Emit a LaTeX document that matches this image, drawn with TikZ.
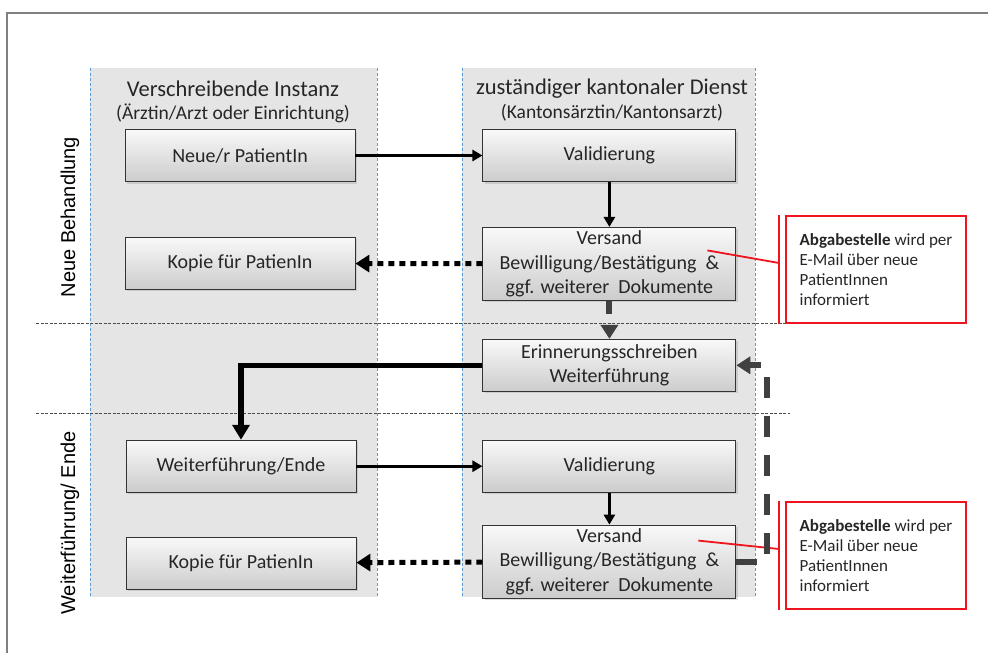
\documentclass[tikz,border=0pt]{standalone}
\usepackage{fontspec}
\setmainfont{Carlito}
\newfontfamily\arialfont{Liberation Sans}
\usetikzlibrary{positioning, arrows.meta, shadows}

\definecolor{laneGray}{RGB}{229,229,229}
\definecolor{laneBlue}{RGB}{91,155,213}
\definecolor{arrowGray}{RGB}{64,64,64}
\definecolor{noteRed}{RGB}{240,20,30}

\begin{document}
\begin{tikzpicture}[x=1pt, y=-1pt, node distance=10pt,
    box/.style={draw=black!80, line width=0.9pt, top color=gray!5, bottom color=gray!40,
        drop shadow={shadow xshift=2pt, shadow yshift=-2pt, opacity=0.25},
        text=black!85, font=\fontsize{20}{24.5}\selectfont, align=center,
        minimum height=52pt, inner xsep=2pt, inner ysep=0pt},
    leftbox/.style={box, minimum width=230pt},
    rightbox/.style={box, minimum width=253pt},
    tallbox/.style={rightbox, minimum height=73pt},
    note/.style={draw=noteRed, line width=1.8pt, minimum width=180pt, minimum height=107pt,
        align=left, font=\fontsize{17}{20}\selectfont, text=black!85},
    flow/.style={-{Triangle[length=10pt,width=11pt]}, line width=2.6pt},
    back/.style={-{Triangle[length=15pt,width=17pt]}, line width=5.5pt},
    copyflow/.style={-{Triangle[length=14pt,width=17pt]}, line width=5pt, dash pattern=on 6pt off 5pt},
    remind/.style={-{Triangle[length=14pt,width=17pt]}, draw=arrowGray, line width=6pt, dash pattern=on 21pt off 18pt},
    lane/.style={laneBlue, line width=0.8pt, dash pattern=on 3pt off 2pt},
    phase/.style={black!70, line width=0.8pt, dash pattern=on 3pt off 1.5pt},
    title/.style={font=\fontsize{22.5}{26}\selectfont, text=black!85},
    subtitle/.style={font=\fontsize{19.5}{23}\selectfont, text=black!85},
    side/.style={font=\arialfont\fontsize{20}{24}\selectfont, rotate=90}
]
\useasboundingbox (0,0) rectangle (988,653);

% frame and swimlanes
\draw[gray, line width=1.5pt] (7,653) -- (7,13) -- (988,13);
\fill[laneGray] (90,68) rectangle (377,597);
\fill[laneGray] (462,68) rectangle (755,597);
\foreach \x in {90, 377, 462, 755}
    \draw[lane] (\x,68) -- (\x,597);
\draw[phase] (36,323) -- (790,323);
\draw[phase] (36,413) -- (790,413);

% headings
\node[title]    (head L) at (233,89)  {Verschreibende Instanz};
\node[subtitle] (sub L)  at (233,113) {(Ärztin/Arzt oder Einrichtung)};
\node[title]    (head R) at (612,89)  {zuständiger kantonaler Dienst};
\node[subtitle] (sub R)  at (612,113) {(Kantonsärztin/Kantonsarzt)};

\node[side] (phase 1) at (70,217) {Neue Behandlung};
\node[side] (phase 2) at (70,523) {Weiterführung/ Ende};

% new treatment
\node[leftbox]                        (neu)      at (240,155.5) {Neue/r PatientIn};
\node[rightbox, right=127pt of neu]   (valid 1)  {Validierung};
\node[tallbox, below=45pt of valid 1] (versand 1) {Versand\\Bewilligung/Bestätigung \ \&\\ggf. weiterer \ Dokumente};
\node[leftbox, below=55pt of neu]     (kopie 1)  {Kopie für PatienIn};

% reminder
\node[rightbox, below=38pt of versand 1] (erinnerung) {Erinnerungsschreiben\\Weiterführung};

% continuation / end
\node[rightbox, below=48pt of erinnerung] (valid 2)   {Validierung};
\node[tallbox, below=32pt of valid 2]     (versand 2) {Versand\\Bewilligung/Bestätigung \ \&\\ggf. weiterer \ Dokumente};
\node[leftbox, left=126pt of valid 2]     (weiter)    {Weiterführung/Ende};
\node[leftbox, below=44pt of weiter]      (kopie 2)   {Kopie für PatienIn};

% notes
\node[note] (note 1) at (876,269.5) {\textbf{Abgabestelle} wird per\\E-Mail über neue\\PatientInnen\\informiert};
\node[note] (note 2) at (876,555.5) {\textbf{Abgabestelle} wird per\\E-Mail über neue\\PatientInnen\\informiert};
\draw[noteRed, line width=1.8pt] ([xshift=-6pt]note 1.north west) -- ([xshift=-6pt]note 1.south west);
\draw[noteRed, line width=1.8pt] ([xshift=-6pt]note 2.north west) -- ([xshift=-6pt]note 2.south west);
\coordinate (mark 1) at ([xshift=-29pt, yshift=13.5pt]versand 1.east);
\coordinate (mark 2) at ([xshift=-38pt, yshift=21pt]versand 2.east);
\draw[noteRed, line width=1.8pt] (mark 1) -- ([xshift=-6pt, yshift=6.5pt]note 1.west);
\draw[noteRed, line width=1.8pt] (mark 2) -- ([xshift=-6pt, yshift=6.5pt]note 2.west);

% connectors
\draw[flow] (neu) -- (valid 1);
\draw[flow] (valid 1) -- (versand 1);
\draw[copyflow] (versand 1) -- (kopie 1);
\draw[remind, dash pattern=on 13pt off 20pt] (versand 1) -- (erinnerung);
\draw[back] (erinnerung.west) -| (weiter.north);
\draw[flow] (weiter) -- (valid 2);
\draw[flow] (valid 2) -- (versand 2);
\draw[copyflow] (versand 2) -- (kopie 2);
\draw[remind] (versand 2.east) -- ++(31,0) |- (erinnerung.east);
\end{tikzpicture}
\end{document}
